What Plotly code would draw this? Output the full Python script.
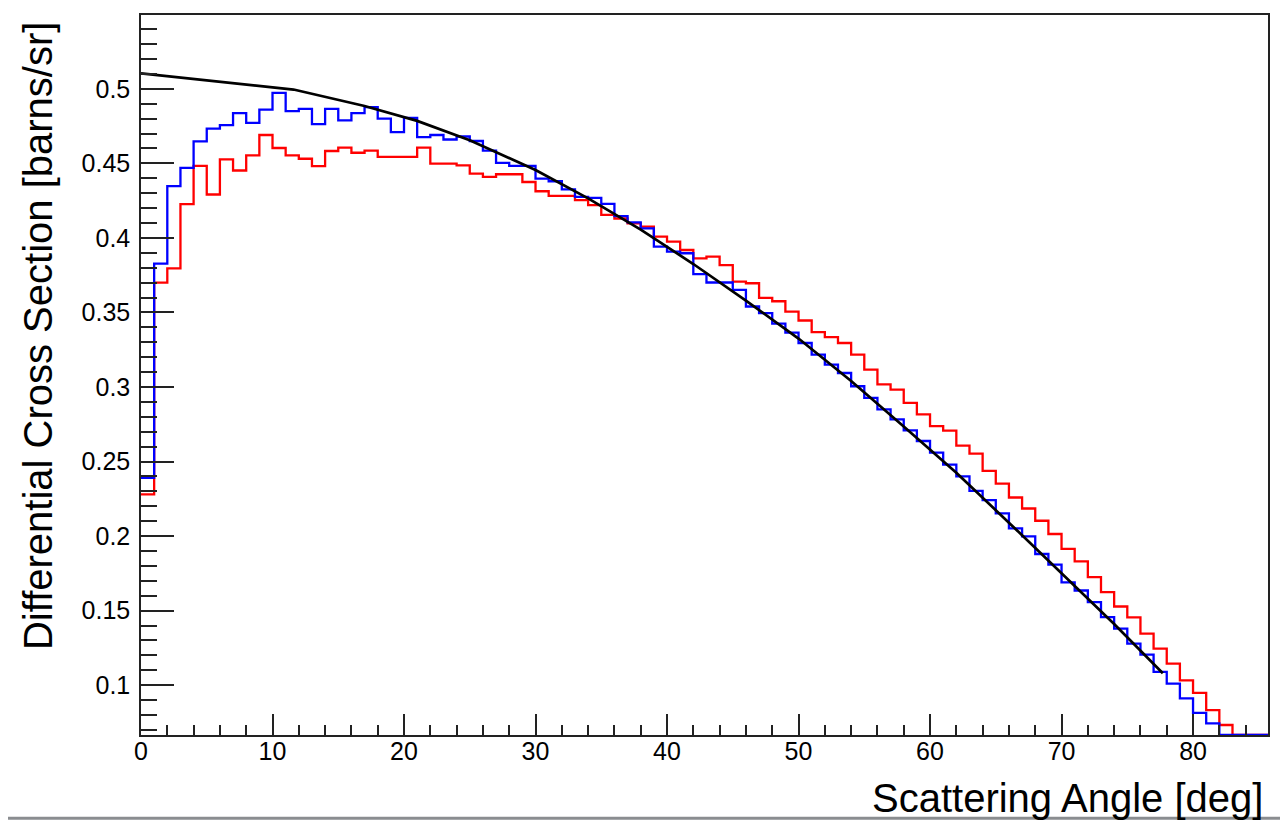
import plotly.graph_objs as go

# bin edges in degrees, one-degree bins from 0 to 86
angle_edges = list(range(0, 87))

red_counts = [
    0.228, 0.370, 0.3796, 0.4227, 0.4483, 0.4291, 0.4527, 0.4452, 0.4554, 0.469,
    0.4603, 0.4554, 0.4531, 0.4481, 0.4583, 0.4605, 0.4571, 0.4585, 0.4543, 0.4543,
    0.4543, 0.4605, 0.4498, 0.4498, 0.4487, 0.4431, 0.4409, 0.4427, 0.4427, 0.4375,
    0.4313, 0.4282, 0.4282, 0.4253, 0.422, 0.4155, 0.413, 0.4097, 0.4075, 0.4008,
    0.3975, 0.3919, 0.3863, 0.3874, 0.3818, 0.3707, 0.3696, 0.3598, 0.3575, 0.3505,
    0.3446, 0.3368, 0.3334, 0.3295, 0.3217, 0.3117, 0.3017, 0.2983, 0.2894, 0.2816,
    0.2738, 0.2707, 0.2607, 0.2553, 0.2437, 0.2352, 0.2259, 0.2185, 0.2103, 0.2014,
    0.1914, 0.1831, 0.1725, 0.1624, 0.1528, 0.1455, 0.1346, 0.1245, 0.1145, 0.1033,
    0.0949, 0.0833, 0.0733, 0.0666, 0.0666, 0.0666,
]

blue_counts = [
    0.239, 0.3828, 0.4347, 0.447, 0.4648, 0.4733, 0.4756, 0.4837, 0.4772, 0.486,
    0.4973, 0.485, 0.4866, 0.4763, 0.4866, 0.4788, 0.4837, 0.4877, 0.480, 0.471,
    0.4805, 0.4676, 0.469, 0.466, 0.468, 0.465, 0.4586, 0.4503, 0.4483, 0.4483,
    0.4398, 0.438, 0.4326, 0.4275, 0.4269, 0.4228, 0.4146, 0.4104, 0.4064, 0.3941,
    0.3908, 0.3897, 0.3757, 0.3701, 0.3701, 0.3652, 0.354, 0.3496, 0.3425, 0.3365,
    0.3295, 0.3217, 0.315, 0.3094, 0.3005, 0.2927, 0.285, 0.2783, 0.2709, 0.2638,
    0.256, 0.248, 0.240, 0.2303, 0.2241, 0.2152, 0.2052, 0.1998, 0.188, 0.1809,
    0.169, 0.1635, 0.1557, 0.1457, 0.1379, 0.1279, 0.1205, 0.1089, 0.1011, 0.0911,
    0.0815, 0.0744, 0.0666, 0.0666, 0.0666, 0.0666,
]

# theory curve
theory_angle = [0, 11.6, 17, 21, 25, 30, 34, 38, 42, 46, 50, 54, 58, 62, 66, 70, 74, 77.7]
theory_xsec = [0.5104, 0.4995, 0.4885, 0.4785, 0.4655, 0.4455, 0.4265, 0.4055, 0.3825,
               0.358, 0.3325, 0.304, 0.2735, 0.2425, 0.209, 0.175, 0.141, 0.108]

font_name = "Liberation Sans, Arial, Helvetica, sans-serif"


def hist_trace(counts, color):
    # step line: repeat last value so the final bin closes at its upper edge
    return go.Scatter(x=angle_edges, y=counts + [counts[-1]], mode='lines',
                      line=dict(color=color, width=2.3, shape='hv'),
                      showlegend=False, hoverinfo='skip')


red_trace = hist_trace(red_counts, '#ff0000')
blue_trace = hist_trace(blue_counts, '#0000ff')
theory_trace = go.Scatter(x=theory_angle, y=theory_xsec, mode='lines',
                          line=dict(color='black', width=2.7), showlegend=False)

fig = go.Figure(data=[red_trace, blue_trace, theory_trace])

# the page body has an 8px margin, so the figure is 8px smaller than the window
fig.update_layout(
    width=1280, height=812,
    margin=dict(l=133, r=20, t=5, b=85),
    paper_bgcolor='white', plot_bgcolor='white',
    font=dict(family=font_name, color='black'),
    xaxis=dict(range=[0, 85.7], showgrid=False, zeroline=False,
               showline=True, mirror=True, linecolor='#222', linewidth=1.5,
               ticks='inside', ticklen=21, tickcolor='#222', tickwidth=1.5,
               tick0=0, dtick=10, tickfont=dict(size=25, family=font_name),
               ticklabelstandoff=-7,
               minor=dict(ticks='inside', ticklen=10, dtick=2, tickcolor='#222', tickwidth=1.5)),
    yaxis=dict(range=[0.0666, 0.5495], showgrid=False, zeroline=False,
               showline=True, mirror=True, linecolor='#222', linewidth=1.5,
               ticks='inside', ticklen=33, tickcolor='#222', tickwidth=1.5,
               tick0=0, dtick=0.05, tickfont=dict(size=25, family=font_name),
               ticklabelstandoff=4,
               minor=dict(ticks='inside', ticklen=16, dtick=0.01, tickcolor='#222', tickwidth=1.5)),
)

# axis titles, ROOT style: aligned to the far end of each axis
fig.add_annotation(text="Differential Cross Section [barns/sr]", textangle=-90,
                   xref='paper', yref='paper', x=-0.0914, y=0.993,
                   xanchor='center', yanchor='top', showarrow=False,
                   font=dict(size=40, family=font_name, color='black'))
fig.add_annotation(text="Scattering Angle [deg]",
                   xref='paper', yref='paper', x=0.9975, y=-0.088,
                   xanchor='right', yanchor='middle', showarrow=False,
                   font=dict(size=40, family=font_name, color='black'))

# grey window edge along the bottom of the screenshot
fig.add_shape(type='rect', xref='paper', yref='paper', x0=-0.12, x1=1.02,
              y0=-0.1177, y1=-0.1136, fillcolor='#8a8d90', line=dict(width=0), layer='above')

fig.write_html("out.html")
